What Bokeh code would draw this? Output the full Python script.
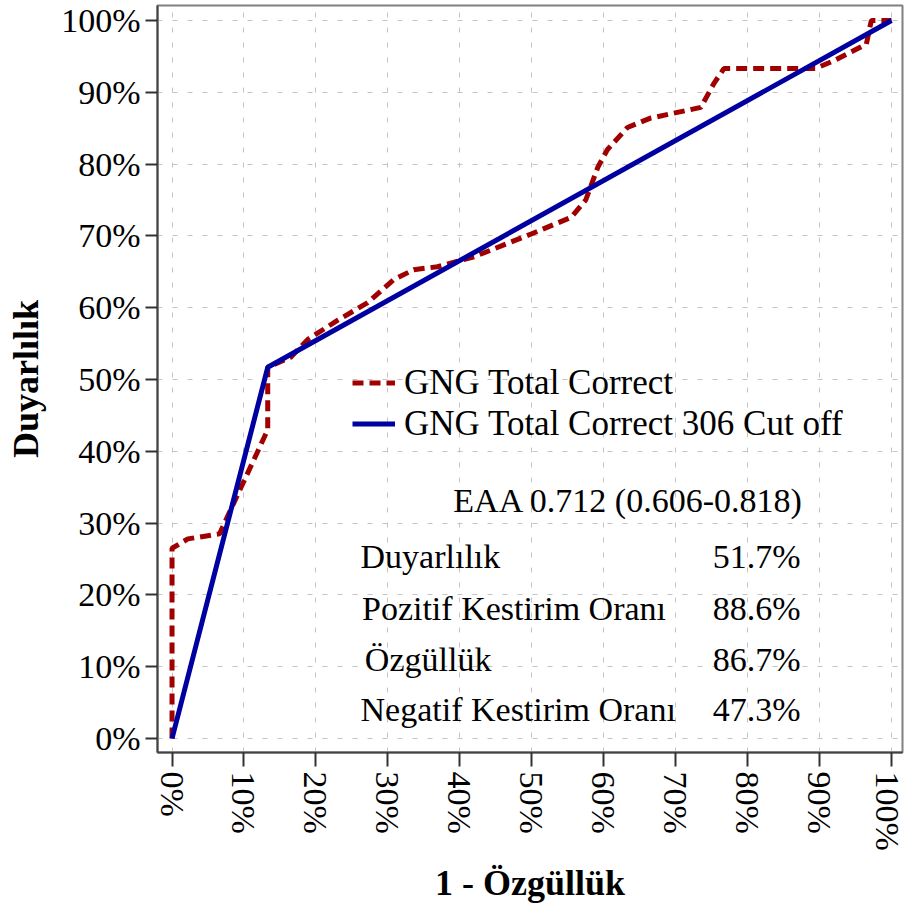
import math
from bokeh.plotting import figure
from bokeh.models import (Range1d, FixedTicker, Legend, LegendItem, Label)
from bokeh.embed import file_html
from bokeh.resources import INLINE

# ---- data ----
roc_fpr = [0.0, 0.0, 0.022, 0.066, 0.133, 0.133, 0.165, 0.189, 0.231, 0.272, 0.308,
           0.336, 0.369, 0.42, 0.50, 0.555, 0.575, 0.592, 0.605, 0.633, 0.665,
           0.735, 0.753, 0.767, 0.894, 0.92, 0.965, 0.972, 1.0]
roc_tpr = [0.0, 0.265, 0.278, 0.285, 0.43, 0.517, 0.531, 0.556, 0.583, 0.607, 0.639,
           0.653, 0.657, 0.671, 0.703, 0.726, 0.75, 0.796, 0.82, 0.851, 0.864,
           0.879, 0.912, 0.933, 0.933, 0.944, 0.967, 1.0, 1.0]
cut_fpr = [0.0, 0.133, 1.0]
cut_tpr = [0.0, 0.517, 1.0]
series_names = ["GNG Total Correct", "GNG Total Correct 306 Cut off"]
tick_values = [0.0, 0.1, 0.2, 0.3, 0.4, 0.5, 0.6, 0.7, 0.8, 0.9, 1.0]
tick_labels = ["0%", "10%", "20%", "30%", "40%", "50%", "60%", "70%", "80%", "90%", "100%"]
auc_text = "EAA 0.712 (0.606-0.818)"
stat_names = ["Duyarlılık", "Pozitif Kestirim Oranı", "Özgüllük", "Negatif Kestirim Oranı"]
stat_values = ["51.7%", "88.6%", "86.7%", "47.3%"]
x_title = "1 - Özgüllük"
y_title = "Duyarlılık"

FONT = "Liberation Serif"

p = figure(width=905, height=905, output_backend="svg", toolbar_location=None,
           x_range=Range1d(-0.0202, 1.0153), y_range=Range1d(-0.0195, 1.0209),
           min_border_left=157, min_border_right=3, min_border_top=5, min_border_bottom=152)
p.background_fill_color = "white"
p.border_fill_color = "white"
p.outline_line_color = "#808080"
p.outline_line_width = 2

for g in (p.xgrid, p.ygrid):
    g.grid_line_color = "#c4c4c4"
    g.grid_line_width = 1
    g.grid_line_dash = "5 10"

for ax in (p.xaxis, p.yaxis):
    ax.ticker = FixedTicker(ticks=tick_values)
    ax.major_label_overrides = {v: l for v, l in zip(tick_values, tick_labels)}
    ax.axis_line_color = "#444444"
    ax.axis_line_width = 2
    ax.major_tick_line_color = "#333333"
    ax.major_tick_line_width = 2
    ax.major_tick_in = 0
    ax.minor_tick_line_color = None
    ax.major_label_text_font = FONT
    ax.major_label_text_font_size = "34px"
    ax.major_label_text_color = "black"
    ax.axis_label_text_font = FONT
    ax.axis_label_text_font_size = "36px"
    ax.axis_label_text_font_style = "bold"
    ax.axis_label_text_color = "black"

p.xaxis.major_tick_out = 14
p.xaxis.major_label_standoff = 5
p.xaxis.major_label_orientation = -math.pi / 2
p.xaxis.axis_label = x_title
p.xaxis.axis_label_standoff = 9
p.yaxis.major_tick_out = 12
p.yaxis.major_label_standoff = 5
p.yaxis.axis_label = y_title
p.yaxis.axis_label_standoff = 12

r_roc = p.line(roc_fpr, roc_tpr, line_color="#a00000", line_width=5, line_dash="11 6")
r_cut = p.line(cut_fpr, cut_tpr, line_color="#0000a0", line_width=5)

legend = Legend(items=[LegendItem(label=series_names[0], renderers=[r_roc]),
                       LegendItem(label=series_names[1], renderers=[r_cut])],
                location=(195, 308), glyph_width=43, glyph_height=41, label_height=41,
                spacing=0, padding=0, margin=0, label_standoff=9,
                background_fill_alpha=0, border_line_alpha=0,
                label_text_font=FONT, label_text_font_size="35px",
                label_text_color="black", label_text_baseline="middle")
p.add_layout(legend)

p.add_layout(Label(x=0.391, y=0.332, text=auc_text, text_font=FONT, text_font_size="34px",
                   text_baseline="middle", text_align="left", text_color="black"))
row_y = [0.253, 0.181, 0.110, 0.040]
row_x = [0.262, 0.264, 0.268, 0.262]
for name, val, yy, xx in zip(stat_names, stat_values, row_y, row_x):
    p.add_layout(Label(x=xx, y=yy, text=name, text_font=FONT, text_font_size="34px",
                       text_baseline="middle", text_align="left", text_color="black"))
    p.add_layout(Label(x=0.8735, y=yy, text=val, text_font=FONT, text_font_size="34px",
                       text_baseline="middle", text_align="right", text_color="black"))

open("out.html", "w").write(file_html(p, INLINE))
